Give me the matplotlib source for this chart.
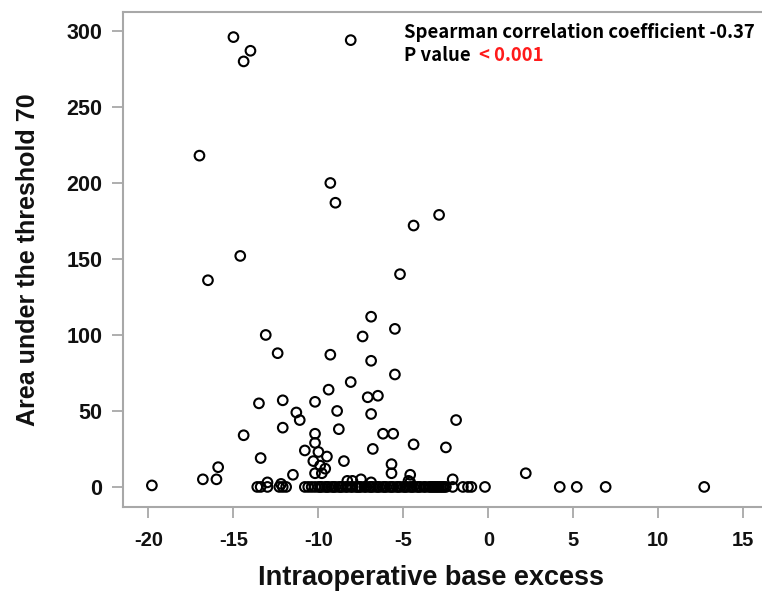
import matplotlib
matplotlib.use("Agg")
import matplotlib.pyplot as plt
from matplotlib import font_manager as fm

# points with area above zero (base excess, area under threshold 70)
be_raised = [-15.0, -14.0, -14.4, -8.1, -17.0, -9.3, -9.0, -2.9, -4.4, -14.6, -16.5, -5.2,
             -6.9, -5.5, -13.1, -7.4, -12.4, -9.3, -6.9, -5.5, -8.1, -9.4, -7.1, -6.5,
             -13.5, -12.1, -10.2, -8.9, -6.9, -11.3, -11.1, -1.9, -12.1, -8.8, -14.4, -10.2,
             -6.2, -5.6, -4.4, -2.5, -6.8, -10.2, -13.4, -10.8, -10.0, -9.5, -8.5, -10.3,
             -9.9, -9.6, -9.8, -10.2, -5.7, -5.7, -11.5, -15.9, -16.0, -16.8, -19.8, -4.6,
             -2.1, 2.2, -8.3, -8.0, -7.5, -6.9, -4.7, -4.6, -12.2, -13.0]
area_raised = [296, 287, 280, 294, 218, 200, 187, 179, 172, 152, 136, 140,
               112, 104, 100, 99, 88, 87, 83, 74, 69, 64, 59, 60,
               55, 57, 56, 50, 48, 49, 44, 44, 39, 38, 34, 35,
               35, 35, 28, 26, 25, 29, 19, 24, 23, 20, 17, 17,
               14, 12, 9, 9, 15, 9, 8, 13, 5, 5, 1, 8,
               5, 9, 4, 4, 5, 3, 4, 3, 2, 3]

# points with area equal to zero
be_zero = [-13.6, -13.4, -13.0, -12.3, -12.1, -11.9, -10.8, -10.6, -10.4, -10.2, -10.0,
           -9.9, -9.8, -9.6, -9.5, -9.4, -9.2, -9.1, -9.0, -8.8, -8.7, -8.6, -8.4, -8.3,
           -8.1, -8.0, -7.8, -7.7, -7.6, -7.5, -7.3, -7.2, -7.0, -6.9, -6.8, -6.6, -6.5,
           -6.4, -6.2, -6.1, -6.0, -5.8, -5.7, -5.6, -5.4, -5.3, -5.2, -5.0, -4.9, -4.8,
           -4.6, -4.5, -4.4, -4.2, -4.1, -4.0, -3.8, -3.7, -3.5, -3.4, -3.3, -3.2, -3.1,
           -3.0, -2.9, -2.8, -2.7, -2.6, -2.5, -2.1, -1.5, -1.2, -1.0, -0.2,
           4.2, 5.2, 6.9, 12.7]
area_zero = [0] * len(be_zero)

x_ticks = [-20, -15, -10, -5, 0, 5, 10, 15]
y_ticks = [0, 50, 100, 150, 200, 250, 300]

# pick the plain (not Narrow) Liberation Sans Bold file if it is there
bold_file = None
for f in fm.findSystemFonts():
    if f.endswith('LiberationSans-Bold.ttf'):
        bold_file = f
if bold_file:
    fm.fontManager.addfont(bold_file)
    bold_name = fm.FontProperties(fname=bold_file).get_name()
else:
    bold_name = 'DejaVu Sans'

plt.rcParams['font.family'] = [bold_name, 'DejaVu Sans']
plt.rcParams['axes.unicode_minus'] = False

def bold(size):
    if bold_file:
        return fm.FontProperties(fname=bold_file, size=size)
    return fm.FontProperties(family='DejaVu Sans', weight='bold', size=size)

fig = plt.figure(figsize=(7.62, 5.92), dpi=100)
ax = fig.add_axes([0.1614, 0.1436, 0.8386, 0.8361])

ax.scatter(be_zero + be_raised, area_zero + area_raised, s=48, facecolors='none',
           edgecolors='black', linewidths=1.5, zorder=3)

ax.set_xlim(-21.5, 16.1)
ax.set_ylim(-13.2, 312.5)
ax.set_xticks(x_ticks)
ax.set_yticks(y_ticks)

for side in ['left', 'bottom', 'top']:
    ax.spines[side].set_color('#a8a8a8')
    ax.spines[side].set_linewidth(1.5)
ax.spines['right'].set_visible(False)
ax.tick_params(axis='both', length=8, width=1.3, color='#a8a8a8',
               labelcolor='#111111')
ax.tick_params(axis='x', pad=9)
ax.tick_params(axis='y', pad=7)
for lbl in ax.get_xticklabels():
    lbl.set_fontproperties(bold(14.5))
for lbl in ax.get_yticklabels():
    lbl.set_fontproperties(bold(15.5))

ax.set_xlabel('Intraoperative base excess', fontproperties=bold(19.5),
              color='#111111')
ax.set_ylabel('Area under the threshold 70', fontproperties=bold(18),
              color='#111111')
ax.xaxis.set_label_coords(0.482, -0.117)
ax.yaxis.set_label_coords(-0.130, 0.5)

# annotation in the upper right corner
fnt = ['Noto Sans CJK KR', 'DejaVu Sans']
fig.text(404 / 762, 1 - 38 / 592, 'Spearman correlation coefficient -0.37',
         fontsize=13.3, fontweight='bold', family=fnt, color='black')
t = fig.text(404 / 762, 1 - 61 / 592, 'P value ', fontsize=13.3,
             fontweight='bold', family=fnt, color='black')
fig.canvas.draw()
bb = t.get_window_extent()
fig.text(bb.x1 / fig.bbox.width + 0.006, 1 - 61 / 592, '< 0.001', fontsize=13.3,
         fontweight='bold', family=fnt, color='#ff1a1a')

fig.savefig('out.png', dpi=100)
